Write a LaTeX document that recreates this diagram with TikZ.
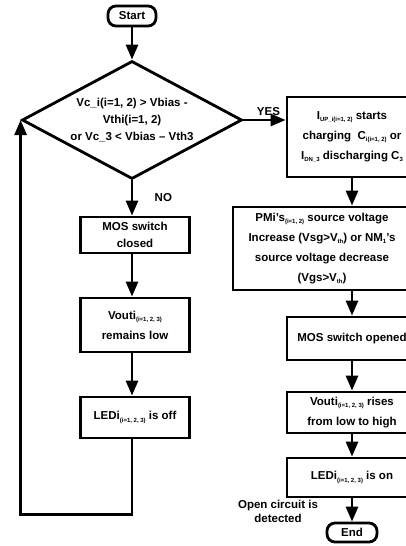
\documentclass[tikz,border=0pt]{standalone}
\usepackage{fontspec}
\setmainfont{Liberation Sans}
\usepackage{tikz}
\usetikzlibrary{arrows.meta,shapes.geometric,positioning}

\newcommand{\lowidx}[1]{\raisebox{-2.5pt}{\fontsize{6}{6}\selectfont #1}}

\begin{document}
\begin{tikzpicture}[x=1pt, y=-1pt, node distance=1cm,
		font=\bfseries\fontsize{11.5}{17}\selectfont]
			\tikzstyle{term} = [draw, line width=2.8pt, rounded corners=8pt, minimum width=48pt, minimum height=20pt, inner sep=0pt]
			\tikzstyle{box} = [draw, line width=2.8pt, align=center, inner sep=0pt]
			\tikzstyle{tall} = [font=\bfseries\fontsize{11.5}{20}\selectfont]
			\tikzstyle{cond} = [draw, diamond, line width=2.8pt, align=center, inner sep=0pt, shape aspect=1.85, minimum width=220pt, minimum height=118pt]
			\tikzstyle{flow} = [line width=2.8pt, -{Triangle[length=15pt,width=12pt]}]

			\useasboundingbox (0,0) rectangle (406,546);

			% left column
			\node[term] (start) at (132,16) {Start};
			\node[cond, below of=start, node distance=102pt, yshift=-2pt] (test) {Vc\_i(i=1, 2) > Vbias -\\Vthi(i=1, 2)\\or Vc\_3 < Vbias – Vth3};
			\node[box, minimum width=109pt, minimum height=36pt, below of=test, node distance=115pt, xshift=3pt] (closed) {MOS switch\\closed};
			\node[box, tall, minimum width=109pt, minimum height=54pt, below of=closed, node distance=90pt] (lowout) {Vouti\lowidx{(i=1, 2, 3)}\\remains low};
			\node[box, minimum width=109pt, minimum height=41pt, below of=lowout, node distance=92.5pt] (ledoff) {LEDi\lowidx{(i=1, 2, 3)} is off};

			% right column
			\node[box, tall, minimum width=130pt, minimum height=80pt, right of=test, node distance=220pt, yshift=-17pt] (charge) {I\lowidx{UP\_i(i=1, 2)} starts\\charging~ C\lowidx{i(i=1, 2)} or\\I\lowidx{DN\_3} discharging C\lowidx{3}};
			\node[box, tall, minimum width=178pt, minimum height=83pt, below of=charge, node distance=111.5pt, xshift=-30pt] (source) {PMi’s\lowidx{(i=1, 2)} source voltage\\Increase (Vsg>V\lowidx{th}) or NM\lowidx{1}’s\\source voltage decrease\\(Vgs>V\lowidx{th})};
			\node[box, minimum width=130pt, minimum height=43pt, below of=source, node distance=90pt, xshift=30pt] (opened) {MOS switch opened};
			\node[box, tall, minimum width=130pt, minimum height=41pt, below of=opened, node distance=74pt] (rises) {Vouti\lowidx{(i=1, 2, 3)} rises\\from low to high};
			\node[box, minimum width=130pt, minimum height=39pt, below of=rises, node distance=65pt] (ledon) {LEDi\lowidx{(i=1, 2, 3)} is on};
			\node[term, minimum width=50pt, minimum height=19pt, below of=ledon, node distance=55pt] (end) {End};
			\node[align=center, font=\bfseries\fontsize{11.5}{13.5}\selectfont, left of=end, node distance=74pt, yshift=21pt] (open) {Open circuit is\\detected};

			\path[flow]
			(start) edge (test)
			(test.south) edge node[right=18pt] {NO} (test.south |- closed.north)
			(test.south |- closed.south) edge (test.south |- lowout.north)
			(test.south |- lowout.south) edge (test.south |- ledoff.north)
			(test.east) edge node[above, xshift=4pt] {YES} (charge.west |- test.east)
			(charge.south -| opened.north) edge (opened.north |- source.north)
			(opened.north |- source.south) edge (opened)
			(opened) edge (rises)
			(rises) edge (ledon)
			(ledon) edge (end)
			;

			\draw[flow] (test.south |- ledoff.south) -- ++(0,75) -| (test.west);

			\end{tikzpicture}
\end{document}
